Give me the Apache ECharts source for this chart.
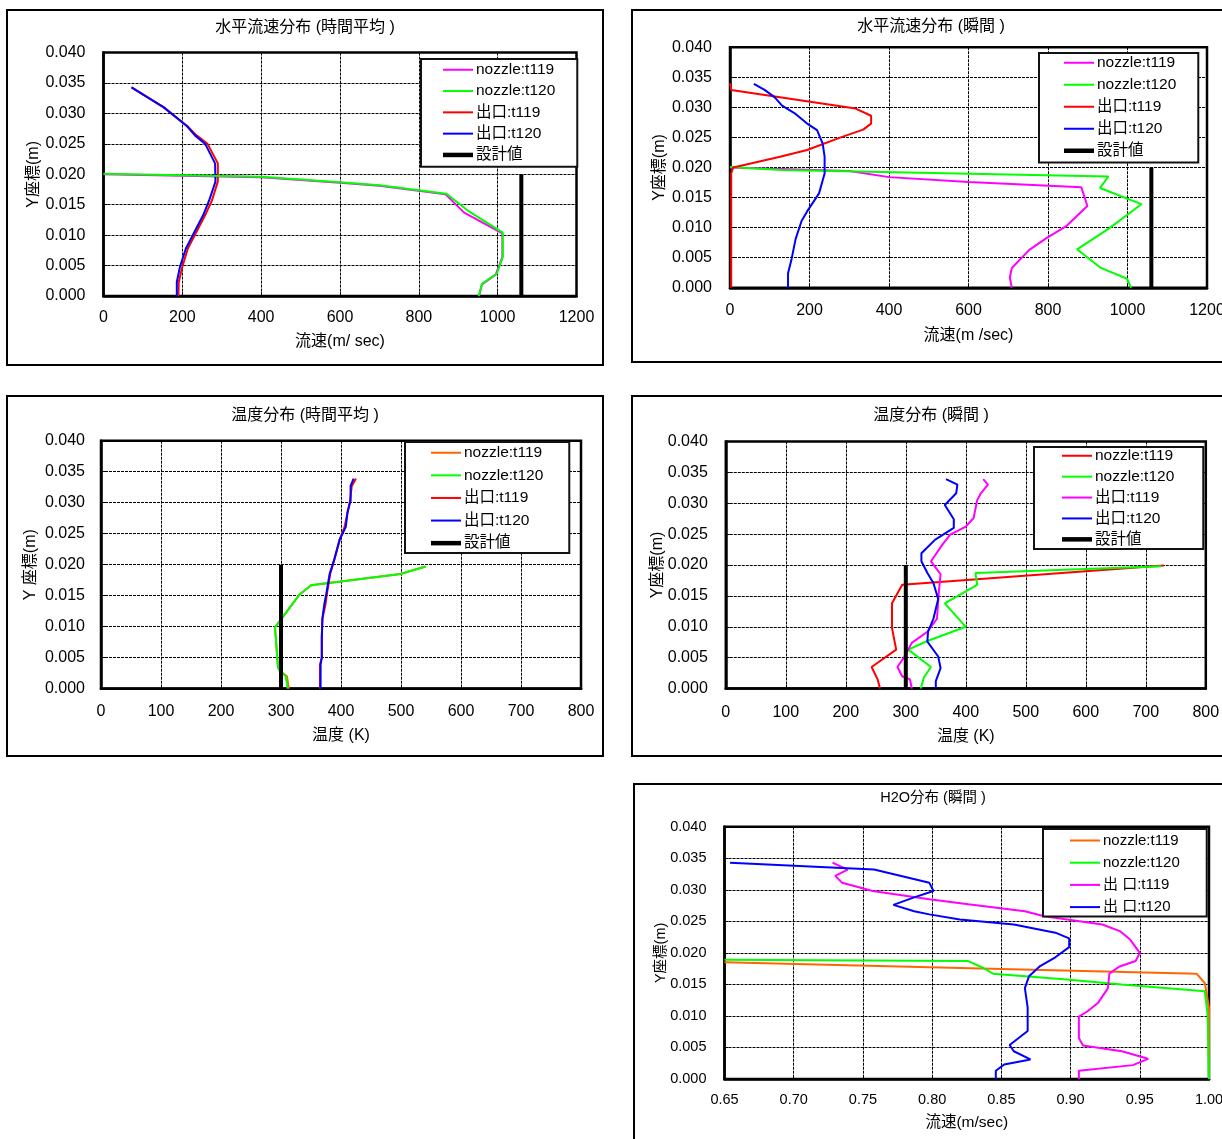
<!DOCTYPE html>
<html>
<head>
<meta charset="utf-8">
<script src="https://cdn.jsdelivr.net/npm/echarts@6/dist/echarts.min.js"></script>
<style>
  body { margin: 0; background: #fff; width: 1222px; height: 1139px; overflow: hidden; position: relative; }
  .panel { position: absolute; }
</style>
</head>
<body>
<div id="p1" class="panel" style="left:6px;top:9px;width:598px;height:357px"></div>
<div id="p2" class="panel" style="left:631px;top:9px;width:600px;height:354px"></div>
<div id="p3" class="panel" style="left:6px;top:395px;width:598px;height:362px"></div>
<div id="p4" class="panel" style="left:631px;top:395px;width:600px;height:362px"></div>
<div id="p5" class="panel" style="left:633px;top:783px;width:600px;height:360px"></div>
<script>
const FONT = '"Liberation Sans", Arial, "Noto Sans CJK JP", sans-serif';

// 水平流速分布 (時間平均)  [流速 m/s, Y m]
const velAvgNozzle119 = [[0,0.0200],[400,0.0195],[600,0.0186],[700,0.0181],[868,0.0167],[915,0.0137],[1012,0.0103],[1012,0.0064],[995,0.0035],[960,0.0019],[953,0]];
const velAvgNozzle120 = [[0,0.0201],[400,0.0196],[600,0.0187],[700,0.0182],[870,0.0168],[925,0.0140],[1013,0.0104],[1013,0.0064],[998,0.0037],[960,0.0020],[952,0]];
const velAvgExit119 = [[71,0.0343],[153,0.0310],[213,0.0279],[236,0.0264],[264,0.0250],[290,0.0218],[290,0.0188],[275,0.0157],[258,0.0133],[234,0.0103],[214,0.0078],[200,0.0048],[191,0.0023],[190,0]];
const velAvgExit120 = [[71,0.0343],[153,0.0310],[212,0.0279],[232,0.0264],[258,0.0250],[283,0.0218],[284,0.0188],[268,0.0157],[253,0.0133],[229,0.0103],[209,0.0078],[194,0.0048],[186,0.0023],[186,0]];
const velDesign = [[1060,0],[1060,0.020]];

// 水平流速分布 (瞬間)
const velInstNozzle119 = [[0,0.0200],[300,0.0194],[400,0.0184],[600,0.0176],[884,0.0167],[899,0.0136],[845,0.0102],[797,0.0083],[753,0.0063],[709,0.0033],[704,0.0017],[709,0]];
const velInstNozzle120 = [[0,0.0201],[130,0.0196],[952,0.0185],[931,0.0166],[1035,0.0139],[952,0.0098],[873,0.0064],[933,0.0033],[999,0.0015],[1009,0]];
const velInstExit119 = [[0,0.0340],[3,0.0329],[316,0.0298],[355,0.0286],[355,0.0273],[335,0.0263],[282,0.0251],[194,0.0229],[126,0.0218],[8,0.0200],[3,0.0190],[3,0]];
const velInstExit120 = [[60,0.0339],[87,0.0329],[112,0.0317],[131,0.0303],[165,0.0289],[194,0.0273],[219,0.0262],[233,0.0240],[238,0.0218],[238,0.0190],[224,0.0157],[194,0.0127],[180,0.0111],[165,0.0081],[155,0.0048],[146,0.0024],[146,0]];

// 温度分布 (時間平均)  [K, Y m]
const tempAvgNozzle119 = [[541,0.0197],[499,0.0185],[350,0.0167],[330,0.0151],[301,0.0113],[290,0.0099],[295,0.0034],[299,0.0028],[310,0.0020],[313,0]];
const tempAvgNozzle120 = [[541,0.0197],[499,0.0185],[350,0.0167],[330,0.0151],[301,0.0113],[290,0.0099],[295,0.0034],[298,0.0028],[308,0.0020],[311,0]];
const tempAvgExit119 = [[425,0.0339],[418,0.0327],[415,0.0303],[411,0.0285],[406,0.0261],[398,0.0241],[389,0.0209],[382,0.0185],[377,0.0156],[374,0.0135],[369,0.0113],[368,0.0082],[368,0.0050],[365,0.0039],[365,0]];
const tempAvgExit120 = [[421,0.0339],[416,0.0327],[416,0.0303],[411,0.0285],[408,0.0261],[398,0.0241],[389,0.0209],[381,0.0185],[376,0.0156],[372,0.0135],[369,0.0113],[368,0.0082],[368,0.0050],[366,0.0039],[366,0]];
const tempDesign = [[300,0],[300,0.020]];

// 温度分布 (瞬間)
const tempInstNozzle119 = [[730,0.0199],[294,0.0168],[277,0.0138],[277,0.0098],[284,0.0063],[243,0.0035],[253,0.0015],[257,0]];
const tempInstNozzle120 = [[726,0.0198],[416,0.0187],[419,0.0168],[365,0.0138],[400,0.0100],[336,0.0077],[304,0.0063],[342,0.0035],[330,0.0018],[325,0]];
const tempInstExit119 = [[429,0.0339],[437,0.0330],[425,0.0316],[419,0.0305],[413,0.0276],[400,0.0262],[374,0.0249],[361,0.0233],[342,0.0206],[358,0.0185],[355,0.0156],[352,0.0113],[336,0.0092],[310,0.0074],[298,0.0052],[286,0.0035],[294,0.0020],[307,0.0015],[310,0]];
const tempInstExit120 = [[367,0.0339],[386,0.0330],[384,0.0316],[365,0.0297],[380,0.0274],[380,0.0260],[349,0.0241],[326,0.0219],[326,0.0206],[336,0.0187],[346,0.0171],[354,0.0145],[346,0.0113],[337,0.0092],[336,0.0076],[354,0.0052],[358,0.0033],[350,0.0012],[350,0]];

// H2O分布 (瞬間)
const h2oNozzle119 = [[0.65,0.0185],[0.991,0.0167],[0.997,0.0152],[1.0,0.0113],[1.0,0]];
const h2oNozzle120 = [[0.65,0.0189],[0.826,0.0187],[0.837,0.0176],[0.844,0.0167],[0.895,0.0158],[0.937,0.0150],[0.997,0.0139],[0.999,0.0102],[1.0,0]];
const h2oExit119 = [[0.728,0.0343],[0.739,0.0332],[0.730,0.0322],[0.735,0.0311],[0.757,0.0298],[0.798,0.0285],[0.826,0.0277],[0.867,0.0266],[0.881,0.0258],[0.923,0.0245],[0.936,0.0234],[0.943,0.0221],[0.950,0.0200],[0.947,0.0187],[0.935,0.0178],[0.928,0.0167],[0.927,0.0144],[0.920,0.0121],[0.912,0.0107],[0.906,0.0099],[0.906,0.0065],[0.909,0.0053],[0.937,0.0044],[0.956,0.0032],[0.945,0.0022],[0.906,0.0013],[0.906,0]];
const h2oExit120 = [[0.654,0.0343],[0.758,0.0332],[0.798,0.0311],[0.801,0.0298],[0.787,0.0288],[0.772,0.0276],[0.787,0.0266],[0.798,0.0261],[0.820,0.0253],[0.859,0.0245],[0.889,0.0232],[0.899,0.0223],[0.899,0.0209],[0.889,0.0193],[0.878,0.0179],[0.870,0.0163],[0.867,0.0144],[0.869,0.0113],[0.869,0.0076],[0.856,0.0054],[0.859,0.0044],[0.871,0.0031],[0.852,0.0023],[0.846,0.0013],[0.846,0]];

const MAGENTA = '#ff00ff', GREEN = '#00ff00', RED = '#ff0000', BLUE = '#0000ff', ORANGE = '#ff6600', BLACK = '#000000';

function drawPanel(id, p) {
  const dom = document.getElementById(id);
  const w = dom.clientWidth, h = dom.clientHeight;
  const chart = echarts.init(dom);
  const dash = { show: true, lineStyle: { color: '#000', width: 1, type: [3, 1] } };
  chart.setOption({
    animation: false,
    textStyle: { fontFamily: FONT, color: '#000' },
    title: {
      text: p.title, left: 'center', top: p.titleTop, padding: 0,
      textStyle: { fontSize: p.titleSize, fontWeight: 'normal', color: '#000', fontFamily: FONT }
    },
    graphic: [{
      type: 'rect', silent: true, z: 100,
      shape: { x: 1, y: 1, width: w - 2, height: h - 2 },
      style: { fill: 'none', stroke: '#000', lineWidth: 2 }
    }],
    grid: {
      left: p.grid[0], top: p.grid[1], width: p.grid[2], height: p.grid[3],
      show: true, borderColor: '#000', borderWidth: 2.5, backgroundColor: '#fff'
    },
    legend: {
      orient: 'vertical', left: p.legend.left, top: p.legend.top,
      padding: p.legend.padding, itemGap: p.legend.gap,
      itemWidth: 30, itemHeight: 16,
      backgroundColor: '#fff', borderColor: '#111', borderWidth: 2,
      textStyle: { fontSize: p.legendSize, color: '#000', fontFamily: FONT, padding: [0, 0, 0, -2] },
      data: p.series.map(s => ({
        name: s.name,
        icon: (s.width || 2) > 2 ? 'path://M0,0H30V4.5H0Z' : 'path://M0,0H30V2H0Z'
      }))
    },
    xAxis: {
      type: 'value', min: p.x.min, max: p.x.max, interval: p.x.interval,
      axisLine: { show: true, lineStyle: { color: '#000', width: 2.5 } },
      axisTick: { show: true, inside: true, length: 4, lineStyle: { color: '#000' } },
      splitLine: dash,
      axisLabel: { fontSize: p.labelSize, color: '#000', margin: p.x.margin, formatter: p.x.fmt || (v => String(v)) },
      name: p.x.name, nameLocation: 'middle', nameGap: p.x.nameGap, nameMoveOverlap: false,
      nameTextStyle: { fontSize: p.nameSize, color: '#000', fontFamily: FONT }
    },
    yAxis: {
      type: 'value', min: 0, max: 0.04, interval: 0.005,
      axisLine: { show: true, lineStyle: { color: '#000', width: 2.5 } },
      axisTick: { show: true, inside: true, length: 4, lineStyle: { color: '#000' } },
      splitLine: dash,
      axisLabel: { fontSize: p.labelSize, color: '#000', margin: p.yMargin, formatter: v => v.toFixed(3) },
      name: p.yName || 'Y座標(m)', nameLocation: 'middle', nameGap: p.yNameGap, nameMoveOverlap: false,
      nameTextStyle: { fontSize: p.yNameSize || p.nameSize, color: '#000', fontFamily: FONT }
    },
    series: p.series.map(s => ({
      name: s.name, type: 'line', data: s.data, symbol: 'none',
      lineStyle: { color: s.color, width: s.width || 2 },
      itemStyle: { color: s.color }, z: s.z || 2
    }))
  });
}

drawPanel('p1', {
  title: '水平流速分布 (時間平均 )', titleTop: 11, titleSize: 16,
  grid: [97.5, 43.6, 473, 243.4],
  legend: { left: 415, top: 50, padding: [3, 22, 4, 22], gap: 5.8 },
  x: { min: 0, max: 1200, interval: 200, margin: 14, name: '流速(m/ sec)', nameGap: 38 },
  yMargin: 18, yNameGap: 62, labelSize: 16, nameSize: 16, legendSize: 15.5,
  series: [
    { name: 'nozzle:t119', data: velAvgNozzle119, color: MAGENTA },
    { name: 'nozzle:t120', data: velAvgNozzle120, color: GREEN, z: 4 },
    { name: '出口:t119', data: velAvgExit119, color: RED },
    { name: '出口:t120', data: velAvgExit120, color: BLUE, z: 3 },
    { name: '設計値', data: velDesign, color: BLACK, width: 4 }
  ]
});

drawPanel('p2', {
  title: '水平流速分布 (瞬間 )', titleTop: 10, titleSize: 16,
  grid: [99, 38.2, 477, 240.6],
  legend: { left: 408, top: 44, padding: [2, 22, 4, 25], gap: 6.5 },
  x: { min: 0, max: 1200, interval: 200, margin: 15, name: '流速(m /sec)', nameGap: 40 },
  yMargin: 18, yNameGap: 62, labelSize: 16, nameSize: 16, legendSize: 15.5,
  series: [
    { name: 'nozzle:t119', data: velInstNozzle119, color: MAGENTA },
    { name: 'nozzle:t120', data: velInstNozzle120, color: GREEN },
    { name: '出口:t119', data: velInstExit119, color: RED },
    { name: '出口:t120', data: velInstExit120, color: BLUE },
    { name: '設計値', data: velDesign, color: BLACK, width: 4 }
  ]
});

drawPanel('p3', {
  title: '温度分布 (時間平均 )', titleTop: 13, titleSize: 16,
  grid: [95, 45.7, 480, 248],
  legend: { left: 399, top: 47, padding: [3, 26, 2, 26], gap: 7.1 },
  x: { min: 0, max: 800, interval: 100, margin: 15, name: '温度 (K)', nameGap: 39 },
  yName: 'Y 座標(m)', yMargin: 16, yNameGap: 62, labelSize: 16, nameSize: 16, legendSize: 15.5,
  series: [
    { name: 'nozzle:t119', data: tempAvgNozzle119, color: ORANGE },
    { name: 'nozzle:t120', data: tempAvgNozzle120, color: GREEN },
    { name: '出口:t119', data: tempAvgExit119, color: RED },
    { name: '出口:t120', data: tempAvgExit120, color: BLUE },
    { name: '設計値', data: tempDesign, color: BLACK, width: 4 }
  ]
});

drawPanel('p4', {
  title: '温度分布 (瞬間 )', titleTop: 13, titleSize: 16,
  grid: [94.8, 46.4, 480, 247.2],
  legend: { left: 403, top: 52, padding: [1, 29, 2, 28], gap: 5.4 },
  x: { min: 0, max: 800, interval: 100, margin: 16, name: '温度 (K)', nameGap: 40 },
  yMargin: 18, yNameGap: 60, labelSize: 16, nameSize: 16, legendSize: 15.5,
  series: [
    { name: 'nozzle:t119', data: tempInstNozzle119, color: RED },
    { name: 'nozzle:t120', data: tempInstNozzle120, color: GREEN },
    { name: '出口:t119', data: tempInstExit119, color: MAGENTA },
    { name: '出口:t120', data: tempInstExit120, color: BLUE },
    { name: '設計値', data: tempDesign, color: BLACK, width: 4 }
  ]
});

drawPanel('p5', {
  title: 'H2O分布 (瞬間 )', titleTop: 8, titleSize: 14.5,
  grid: [91.5, 43.7, 484.5, 252.3],
  legend: { left: 410, top: 46, padding: [4, 27, 2, 27], gap: 7.2 },
  x: { min: 0.65, max: 1.0, interval: 0.05, margin: 14, name: '流速(m/sec)', nameGap: 36, fmt: v => v.toFixed(2) },
  yMargin: 18, yNameGap: 56, labelSize: 14.5, nameSize: 15.5, yNameSize: 14.5, legendSize: 15,
  series: [
    { name: 'nozzle:t119', data: h2oNozzle119, color: ORANGE },
    { name: 'nozzle:t120', data: h2oNozzle120, color: GREEN },
    { name: '出 口:t119', data: h2oExit119, color: MAGENTA },
    { name: '出 口:t120', data: h2oExit120, color: BLUE }
  ]
});
</script>
</body>
</html>
